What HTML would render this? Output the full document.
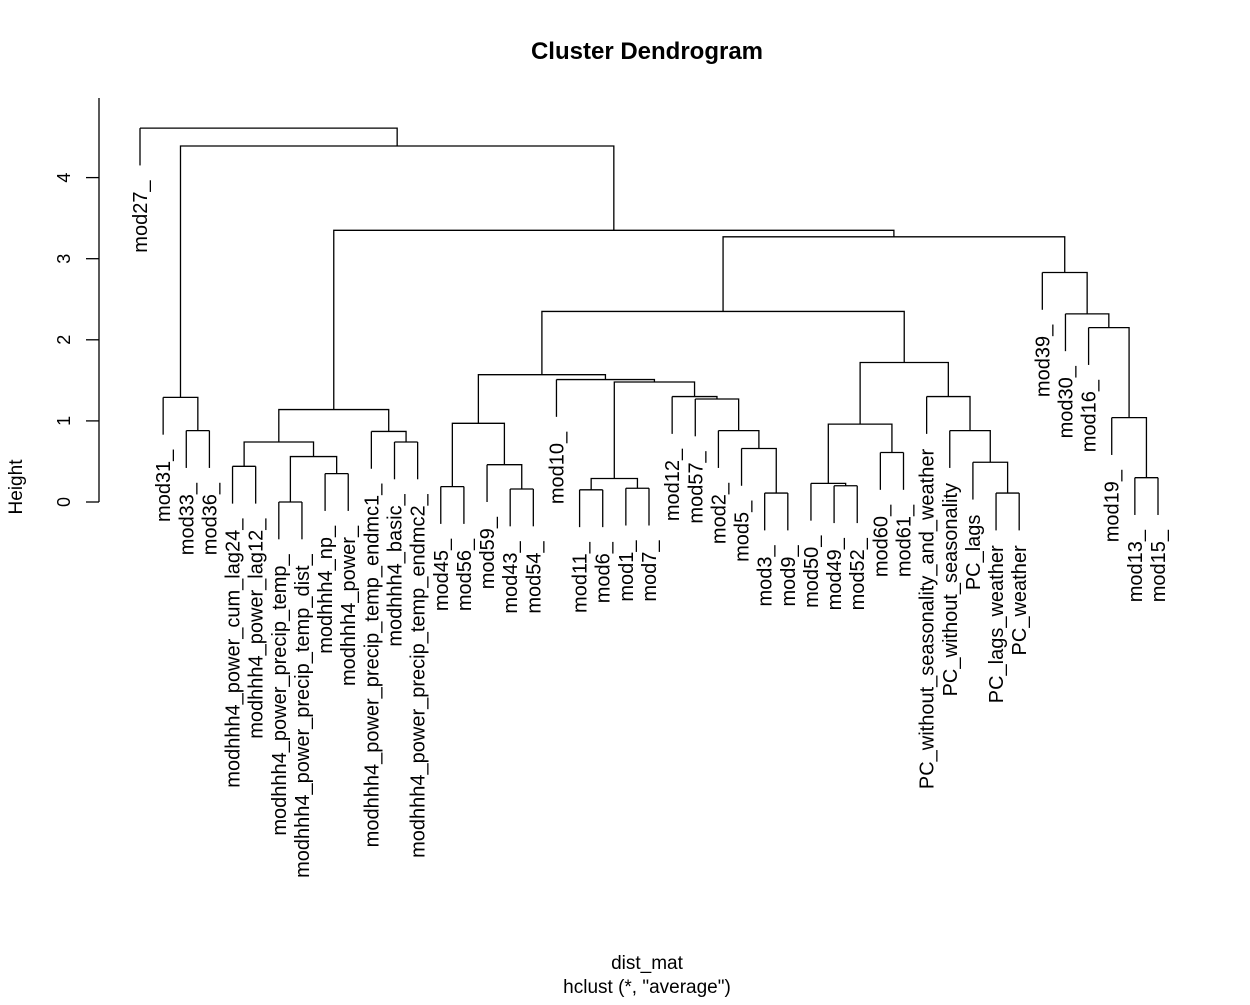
<!DOCTYPE html>
<html><head><meta charset="utf-8"><style>
html,body{margin:0;padding:0;background:#fff;}
svg text{font-family:"Liberation Sans",Arial,sans-serif;fill:#000;}
</style></head><body>
<svg id="chart" width="1250" height="1000" viewBox="0 0 1250 1000" xmlns="http://www.w3.org/2000/svg">
<text x="647" y="59" font-size="24" font-weight="bold" text-anchor="middle">Cluster Dendrogram</text>
<text transform="translate(22,487) rotate(-90)" font-size="19" text-anchor="middle">Height</text>
<text x="647" y="969" font-size="19" text-anchor="middle">dist_mat</text>
<text x="647" y="993" font-size="19" text-anchor="middle">hclust (*, "average")</text>
<g id="axis"></g>
<g id="tree"></g>
<g id="labels"></g>
</svg>
<script>
const leafLabels = ["mod27_","mod31_","mod33_","mod36_","modhhh4_power_cum_lag24_","modhhh4_power_lag12_","modhhh4_power_precip_temp_","modhhh4_power_precip_temp_dist_","modhhh4_np_","modhhh4_power_","modhhh4_power_precip_temp_endmc1_","modhhh4_basic_","modhhh4_power_precip_temp_endmc2_","mod45_","mod56_","mod59_","mod43_","mod54_","mod10_","mod11_","mod6_","mod1_","mod7_","mod12_","mod57_","mod2_","mod5_","mod3_","mod9_","mod50_","mod49_","mod52_","mod60_","mod61_","PC_without_seasonality_and_weather","PC_without_seasonality","PC_lags","PC_lags_weather","PC_weather","mod39_","mod30_","mod16_","mod19_","mod13_","mod15_"];
const mergeLeft  = [-7,-28,-38,-20,-17,-22,-14,-31,-30,4,-44,-9,-5,-16,-37,1,-33,-27,13,-12,-11,-3,-26,-36,9,7,-43,19,-25,-2,-24,-35,10,-19,26,25,-42,-41,35,-40,39,28,30,-1];
const mergeRight = [-8,-29,-39,-21,-18,-23,-15,-32,8,6,-45,-10,-6,5,3,12,-34,2,16,-13,20,-4,18,15,17,14,11,21,23,22,29,24,31,33,34,32,27,37,36,38,40,41,42,43];
const mergeHeights = [0.00,0.11,0.11,0.15,0.16,0.17,0.19,0.20,0.23,0.29,0.30,0.35,0.44,0.46,0.49,0.56,0.61,0.66,0.74,0.74,0.87,0.88,0.88,0.88,0.96,0.97,1.04,1.14,1.27,1.29,1.30,1.30,1.48,1.51,1.57,1.72,2.15,2.32,2.35,2.83,3.27,3.35,4.39,4.61];
const yTicks = [0,1,2,3,4];

const NS = "http://www.w3.org/2000/svg";
const x0 = 140, x1 = 1158;
function xScale(i){ return x0 + i*(x1-x0)/(leafLabels.length-1); }
function yScale(h){ return 502 - h*81.1; }
const hang = 0.46;

function mk(tag, attrs, parent){
  const e = document.createElementNS(NS, tag);
  for (const k in attrs) e.setAttribute(k, attrs[k]);
  parent.appendChild(e); return e;
}
const axis = document.getElementById('axis');
const tree = document.getElementById('tree');
const labels = document.getElementById('labels');

const al = mk('line',{x1:99,y1:yScale(0),x2:99,y2:98,stroke:'#000','stroke-width':1.3},axis);


yTicks.forEach(t=>{
  const tl = mk('line',{x1:86,y1:yScale(t),x2:99,y2:yScale(t),stroke:'#000','stroke-width':1.3},axis);
  
  
  const tx = mk('text',{transform:'translate(70,'+yScale(t)+') rotate(-90)','font-size':18,'text-anchor':'middle'},axis);
  
  
  tx.textContent = String(t);
});

const nodeX = [];
function xOf(ref){ return ref<0 ? xScale(-ref-1) : nodeX[ref-1]; }
function hOf(ref){ return ref<0 ? null : mergeHeights[ref-1]; }
for (let k=0;k<mergeLeft.length;k++){
  nodeX[k] = (xOf(mergeLeft[k]) + xOf(mergeRight[k]))/2;
}
function drawLeaf(ref, parentH){
  const i = -ref-1, x = xScale(i);
  const yEnd = yScale(parentH - hang);
  const ll = mk('line',{x1:x,y1:yScale(parentH),x2:x,y2:yEnd,stroke:'#000','stroke-width':1.3},tree);
  
  
  const t = mk('text',{transform:'translate('+(x+7)+','+(yEnd+15)+') rotate(-90)','font-size':20,'text-anchor':'end'},labels);
  
  
  t.textContent = leafLabels[i];
}
for (let k=0;k<mergeLeft.length;k++){
  const h = mergeHeights[k], y = yScale(h);
  const xl = xOf(mergeLeft[k]), xr = xOf(mergeRight[k]);
  const yl = mergeLeft[k]<0 ? y : yScale(hOf(mergeLeft[k]));
  const yr = mergeRight[k]<0 ? y : yScale(hOf(mergeRight[k]));
  const p = mk('path',{d:'M'+xl+' '+yl+'V'+y+'H'+xr+'V'+yr,fill:'none',stroke:'#000','stroke-width':1.3},tree);
  
  
  if (mergeLeft[k]<0) drawLeaf(mergeLeft[k], h);
  if (mergeRight[k]<0) drawLeaf(mergeRight[k], h);
}
</script>
</body></html>
